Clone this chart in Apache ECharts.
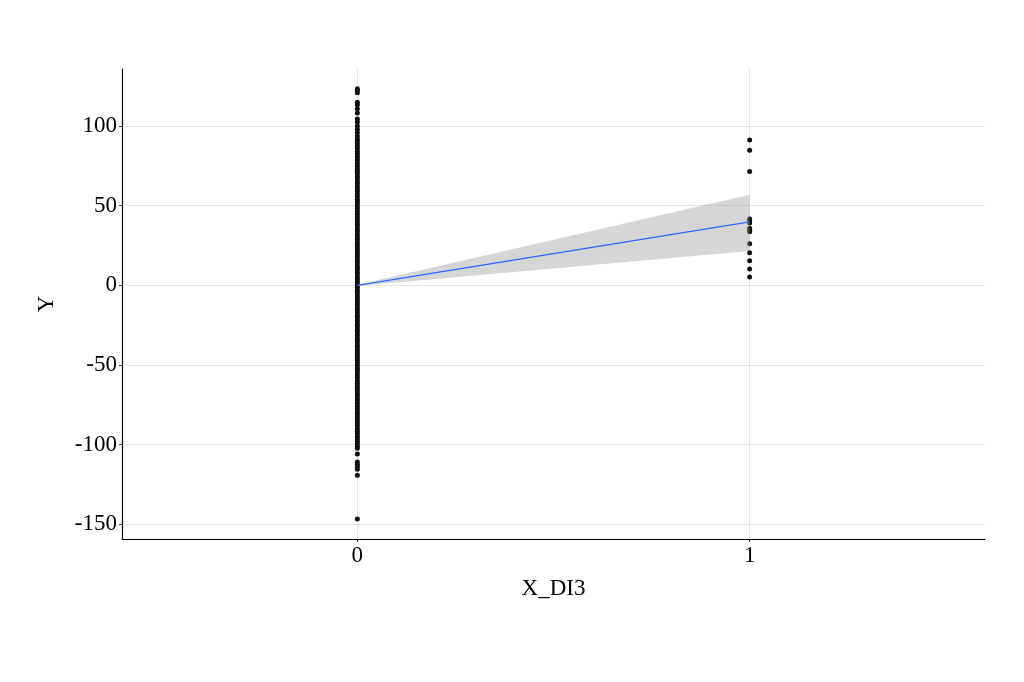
<!DOCTYPE html>
<html>
<head>
<meta charset="utf-8">
<script src="https://cdn.jsdelivr.net/npm/echarts@6/dist/echarts.min.js"></script>
<style>html,body{margin:0;padding:0;background:#fff}#c{width:1024px;height:682px}</style>
</head>
<body>
<div id="c"></div>
<script>
// ---- data ----
var yTicks = [-150, -100, -50, 0, 50, 100];
var xTicks = [0, 1];
// Y values of observations with X_DI3 = 0 (dense column + outliers)
var y0 = [123.4, 122.5, 120.9, 115, 113.3, 110.8, 108.2, 104.4, 102.5, 100, 98, 96, 93.7, 91.8,
  90.7, 89, 87.5, 86, 84.2, 82.8, 81, 79.5, 78, 76.3, 74.8, 73, 71.6, 70, 68.4, 66.9, 65.2, 63.7, 62, 60.5,
  59, 57.3, 55.8, 54.1, 52.6, 51, 49.4, 47.9, 46.2, 44.7, 43, 41.5, 40, 38.3, 36.8, 35.1, 33.6, 32, 30.4,
  28.9, 27.2, 25.7, 24, 22.5, 21, 19.3, 17.8, 16.1, 14.6, 13, 11.4, 9.9, 8.2, 6.7, 5, 3.5, 2, 0.3, -1.2,
  -2.9, -4.4, -6, -7.6, -9.1, -10.8, -12.3, -14, -15.5, -17, -18.7, -20.2, -21.9, -23.4, -25, -26.6, -28.1,
  -29.8, -31.3, -33, -34.5, -36, -37.7, -39.2, -40.9, -42.4, -44, -45.6, -47.1, -48.8, -50.3, -52, -53.5,
  -55, -56.7, -58.2, -59.9, -61.4, -63, -64.6, -66.1, -67.8, -69.3, -71, -72.5, -74, -75.7, -77.2, -78.9,
  -80.4, -82, -83.6, -85.1, -86.8, -88.3, -90, -91.5, -93, -94.7, -96.2, -97.9, -99.4, -101, -102.3,
  -105.9, -110.8, -112.5, -113.9, -115.4, -119.2, -146.6];
// Y values of observations with X_DI3 = 1
var y1 = [91.3, 84.8, 71.5, 41.6, 40.7, 39.2, 35.9, 34.6, 33.7, 26.1, 20.4, 15.4, 10.3, 5.3];
// linear fit with 95% confidence band
var fitX = [0, 1];
var fitY = [0, 39.8];
var fitLower = [-0.4, 21.5];
var fitUpper = [0.4, 56.8];

// ---- build ----
var pts = [];
y0.forEach(function (v) { pts.push([0, v]); });
y1.forEach(function (v) { pts.push([1, v]); });
var lineData = fitX.map(function (x, i) { return [x, fitY[i]]; });
var bandData = fitX.map(function (x, i) { return [x, fitLower[i], fitUpper[i]]; });

var FONT = '"Liberation Serif", "Times New Roman", serif';
var chart = echarts.init(document.getElementById('c'), null, { renderer: 'canvas' });
chart.setOption({
  animation: false,
  backgroundColor: '#ffffff',
  grid: { left: 122, right: 39, top: 69, bottom: 143, containLabel: false },
  xAxis: {
    type: 'value', min: -0.6, max: 1.6,
    name: 'X_DI3', nameLocation: 'middle', nameGap: 38,
    nameTextStyle: { fontFamily: FONT, fontSize: 23, color: '#000' },
    axisLine: { show: true, onZero: false, lineStyle: { color: '#000', width: 1.2 } },
    axisTick: { show: true, length: 3, customValues: xTicks, lineStyle: { color: '#333' } },
    axisLabel: { customValues: xTicks, margin: 5, fontFamily: FONT, fontSize: 23, color: '#000' },
    splitLine: { show: true, lineStyle: { color: '#e3e3e3', width: 1 } }
  },
  yAxis: {
    type: 'value', min: -159.2, max: 135.8,
    name: 'Y', nameLocation: 'middle', nameGap: 64, nameRotate: 90,
    nameTextStyle: { fontFamily: FONT, fontSize: 23, color: '#000' },
    axisLine: { show: true, onZero: false, lineStyle: { color: '#000', width: 1.2 } },
    axisTick: { show: true, length: 3, customValues: yTicks, lineStyle: { color: '#333' } },
    axisLabel: { customValues: yTicks, margin: 5, fontFamily: FONT, fontSize: 23, color: '#000' },
    splitLine: { show: true, lineStyle: { color: '#e3e3e3', width: 1 } }
  },
  series: [
    {
      type: 'scatter', data: pts, symbolSize: 5, silent: true,
      itemStyle: { color: '#111', opacity: 1 }, z: 2
    },
    {
      type: 'custom', data: bandData, silent: true, z: 3,
      encode: { x: 0, y: [1, 2] },
      renderItem: function (params, api) {
        if (params.dataIndex !== 0) return null;
        var up = [], lo = [];
        for (var i = 0; i < bandData.length; i++) {
          up.push(api.coord([bandData[i][0], bandData[i][2]]));
          lo.unshift(api.coord([bandData[i][0], bandData[i][1]]));
        }
        return {
          type: 'polygon',
          shape: { points: up.concat(lo) },
          style: { fill: 'rgba(153,153,153,0.4)' }
        };
      }
    },
    {
      type: 'line', data: lineData, symbol: 'none', silent: true,
      lineStyle: { color: '#3366FF', width: 1.2 }, z: 4
    }
  ]
});
</script>
</body>
</html>
